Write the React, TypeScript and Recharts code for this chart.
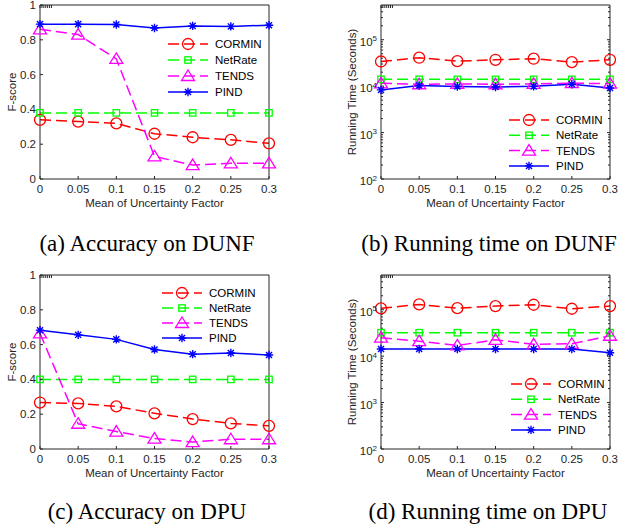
import { LineChart, Line, XAxis, YAxis, Legend } from 'recharts'

// x values shared by all four panels
const X_VALUES = [0, 0.05, 0.1, 0.15, 0.2, 0.25, 0.3]
const F_TICKS = [0, 0.2, 0.4, 0.6, 0.8, 1]
const LOG_TICKS = [100, 1000, 10000, 100000]
const LOG_MINOR = [
  200, 300, 400, 500, 600, 700, 800, 900,
  2000, 3000, 4000, 5000, 6000, 7000, 8000, 9000,
  20000, 30000, 40000, 50000, 60000, 70000, 80000, 90000,
  200000, 300000, 400000, 500000,
]
const LOG_MAX = 560000

// (a) accuracy on DUNF
const DUNF_F_CORMIN = [0.34, 0.33, 0.32, 0.26, 0.24, 0.225, 0.205]
const DUNF_F_NETRATE = [0.38, 0.38, 0.38, 0.38, 0.38, 0.38, 0.38]
const DUNF_F_TENDS = [0.86, 0.83, 0.69, 0.13, 0.08, 0.09, 0.09]
const DUNF_F_PIND = [0.89, 0.89, 0.888, 0.868, 0.88, 0.877, 0.884]

// (b) running time on DUNF (seconds)
const DUNF_T_CORMIN = [34000, 41000, 34500, 37000, 39000, 33000, 37000]
const DUNF_T_NETRATE = [14000, 14000, 14000, 14000, 14000, 14000, 14000]
const DUNF_T_TENDS = [11500, 11000, 11200, 11000, 11200, 11600, 11300]
const DUNF_T_PIND = [8300, 10300, 9800, 9600, 9900, 11000, 9100]

// (c) accuracy on DPU
const DPU_F_CORMIN = [0.267, 0.262, 0.245, 0.205, 0.172, 0.147, 0.133]
const DPU_F_NETRATE = [0.4, 0.4, 0.4, 0.4, 0.4, 0.4, 0.4]
const DPU_F_TENDS = [0.665, 0.145, 0.1, 0.06, 0.04, 0.056, 0.056]
const DPU_F_PIND = [0.683, 0.656, 0.63, 0.572, 0.545, 0.552, 0.54]

// (d) running time on DPU (seconds)
const DPU_T_CORMIN = [107000, 130000, 108000, 120000, 128000, 105000, 120000]
const DPU_T_NETRATE = [32000, 32000, 32000, 32000, 32000, 32000, 32000]
const DPU_T_TENDS = [25000, 21000, 17000, 22500, 18000, 18500, 27500]
const DPU_T_PIND = [14300, 14300, 14300, 14300, 14300, 14300, 11800]

const AXIS = '#262626'
const SANS = '"Liberation Sans", Arial, sans-serif'
const DASH = '11 5'

const SERIES = [
  { key: 'CORMIN', color: '#ff0000', dash: DASH, marker: 'circle' },
  { key: 'NetRate', color: '#00ff00', dash: DASH, marker: 'square' },
  { key: 'TENDS', color: '#ff00ff', dash: DASH, marker: 'triangle' },
  { key: 'PIND', color: '#0000ff', dash: undefined, marker: 'star' },
]

const rows = (c: number[], n: number[], t: number[], p: number[]) =>
  X_VALUES.map((x, i) => ({ x, CORMIN: c[i], NetRate: n[i], TENDS: t[i], PIND: p[i] }))

function Marker({ shape, cx, cy, color }: { shape: string; cx?: number; cy?: number; color: string }) {
  if (cx == null || cy == null) return null
  const common = { fill: 'none', stroke: color, strokeWidth: 1.3 }
  if (shape === 'circle') return <circle cx={cx} cy={cy} r={5.5} {...common} />
  if (shape === 'square') return <rect x={cx - 3.2} y={cy - 3.2} width={6.4} height={6.4} {...common} />
  if (shape === 'triangle')
    return <polygon points={`${cx},${cy - 6} ${cx + 6.5},${cy + 4.5} ${cx - 6.5},${cy + 4.5}`} {...common} />
  const r = 4.2
  const d = r * 0.72
  return (
    <path
      d={`M${cx - r} ${cy}H${cx + r}M${cx} ${cy - r}V${cy + r}M${cx - d} ${cy - d}L${cx + d} ${cy + d}M${cx - d} ${cy + d}L${cx + d} ${cy - d}`}
      {...common}
      strokeWidth={1.4}
    />
  )
}

function LogTick({ x, y, payload }: any) {
  const exp = Math.round(Math.log10(payload.value))
  return (
    <text x={x} y={y} dy={6} textAnchor="end" fontSize={11.5} fill={AXIS} fontFamily={SANS}>
      10
      <tspan dy={-4.5} fontSize={8}>{exp}</tspan>
    </text>
  )
}

function PanelLegend({ rowGap }: { rowGap: number }) {
  return (
    <svg width={110} height={70} style={{ display: 'block' }}>
      {SERIES.map((s, i) => {
        const y = 8 + i * rowGap
        return (
          <g key={s.key}>
            <line x1={0} x2={40} y1={y} y2={y} stroke={s.color} strokeWidth={1.5} strokeDasharray={s.dash} />
            <Marker shape={s.marker} cx={20} cy={y} color={s.color} />
            <text x={47} y={y} dy="0.35em" fontSize={11.5} fill="#000" fontFamily={SANS}>
              {s.key}
            </text>
          </g>
        )
      })}
    </svg>
  )
}

type PanelProps = {
  data: ReturnType<typeof rows>
  log?: boolean
  yLabel: string
  legendLeft: number
  legendTop: number
  rowGap: number
}

function Panel({ data, log, yLabel, legendLeft, legendTop, rowGap }: PanelProps) {
  const yScale: any = log
    ? { scale: 'log', domain: [100, LOG_MAX], ticks: LOG_TICKS, allowDataOverflow: true }
    : { domain: [0, 1], ticks: F_TICKS }
  const tickStyle = { fontSize: 11.5, fill: AXIS, fontFamily: SANS }
  const blank = () => ''
  return (
    <LineChart width={311} height={225} data={data} margin={{ top: 4, right: log ? 11 : 41, bottom: 6, left: 0 }}>
      <XAxis
        dataKey="x"
        type="number"
        domain={[0, 0.3]}
        ticks={X_VALUES}
        interval={0}
        height={40}
        tickSize={-3}
        tickMargin={9}
        stroke={AXIS}
        tick={tickStyle}
        label={{ value: 'Mean of Uncertainty Factor', position: 'insideBottom', offset: 12, fontSize: 11.5, fill: AXIS, fontFamily: SANS }}
      />
      {/* box: top and right axes, ticks pointing inward */}
      <XAxis xAxisId="top" orientation="top" type="number" domain={[0, 0.3]} ticks={X_VALUES} interval={0} height={1} tickSize={-3} stroke={AXIS} tickFormatter={blank} />
      <YAxis
        width={log ? 70 : 40}
        {...yScale}
        interval={0}
        tickSize={-3}
        tickMargin={7}
        stroke={AXIS}
        tick={log ? <LogTick /> : tickStyle}
        label={{ value: yLabel, angle: -90, position: 'insideLeft', offset: log ? 41 : 12, style: { textAnchor: 'middle' }, fontSize: 11.5, fill: AXIS, fontFamily: SANS }}
      />
      <YAxis yAxisId="r" orientation="right" width={1} {...yScale} interval={0} tickSize={-3} stroke={AXIS} tickFormatter={blank} />
      {log && (
        <YAxis yAxisId="lm" mirror axisLine={false} scale="log" domain={[100, LOG_MAX]} allowDataOverflow ticks={LOG_MINOR} interval={0} tickSize={2} stroke={AXIS} tickFormatter={blank} />
      )}
      {log && (
        <YAxis yAxisId="rm" orientation="right" mirror axisLine={false} scale="log" domain={[100, LOG_MAX]} allowDataOverflow ticks={LOG_MINOR} interval={0} tickSize={2} stroke={AXIS} tickFormatter={blank} />
      )}
      {SERIES.map((s) => (
        <Line
          key={s.key}
          dataKey={s.key}
          stroke={s.color}
          strokeWidth={1.5}
          strokeDasharray={s.dash}
          type="linear"
          isAnimationActive={false}
          dot={(p: any) => <Marker key={p.index} shape={s.marker} cx={p.cx} cy={p.cy} color={s.color} />}
        />
      ))}
      <Legend
        layout="vertical"
        align="center"
        verticalAlign="middle"
        wrapperStyle={{ left: legendLeft, top: legendTop, width: 110, height: 70 }}
        content={() => <PanelLegend rowGap={rowGap} />}
      />
    </LineChart>
  )
}

const captionStyle = (left: number, top: number): React.CSSProperties => ({
  position: 'absolute',
  left,
  top,
  width: 300,
  textAlign: 'center',
  fontFamily: '"Liberation Serif", "Times New Roman", serif',
  fontSize: 23,
  lineHeight: '23px',
  color: '#000',
  whiteSpace: 'nowrap',
})

export default function App() {
  return (
    <div style={{ position: 'absolute', left: 0, top: 0, width: 622, height: 527, background: '#fff' }}>
      <div style={{ position: 'absolute', left: 0, top: 0 }}>
        <Panel data={rows(DUNF_F_CORMIN, DUNF_F_NETRATE, DUNF_F_TENDS, DUNF_F_PIND)} yLabel="F-score" legendLeft={168} legendTop={36} rowGap={16} />
      </div>
      <div style={{ position: 'absolute', left: 311, top: 0 }}>
        <Panel data={rows(DUNF_T_CORMIN, DUNF_T_NETRATE, DUNF_T_TENDS, DUNF_T_PIND)} log yLabel="Running Time (Seconds)" legendLeft={198} legendTop={112} rowGap={15.3} />
      </div>
      <div style={{ position: 'absolute', left: 0, top: 270 }}>
        <Panel data={rows(DPU_F_CORMIN, DPU_F_NETRATE, DPU_F_TENDS, DPU_F_PIND)} yLabel="F-score" legendLeft={162} legendTop={15} rowGap={15} />
      </div>
      <div style={{ position: 'absolute', left: 311, top: 270 }}>
        <Panel data={rows(DPU_T_CORMIN, DPU_T_NETRATE, DPU_T_TENDS, DPU_T_PIND)} log yLabel="Running Time (Seconds)" legendLeft={200} legendTop={106} rowGap={15.3} />
      </div>
      <div style={captionStyle(-3, 232)}>(a) Accuracy on DUNF</div>
      <div style={captionStyle(339, 232)}>(b) Running time on DUNF</div>
      <div style={captionStyle(-3, 500)}>(c) Accuracy on DPU</div>
      <div style={captionStyle(338, 500)}>(d) Running time on DPU</div>
    </div>
  )
}
